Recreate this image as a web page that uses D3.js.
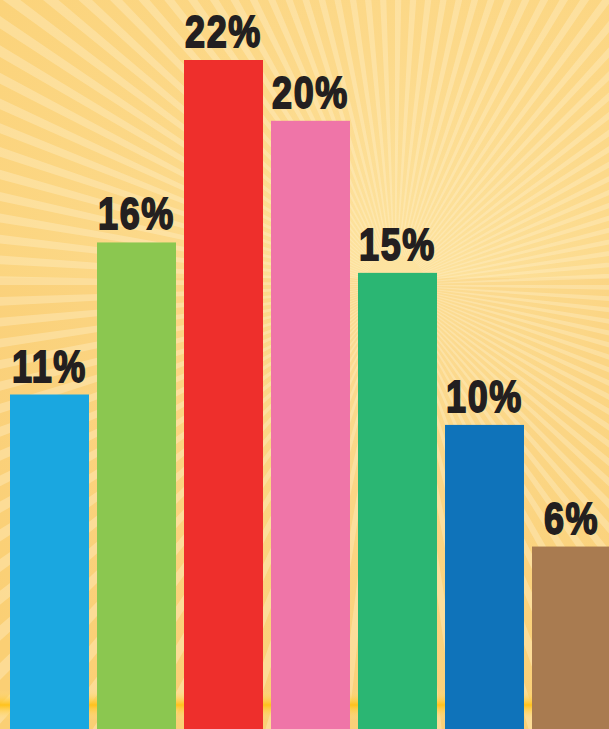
<!DOCTYPE html>
<html>
<head>
<meta charset="utf-8">
<script src="https://cdn.jsdelivr.net/npm/d3@7"></script>
<style>
  html, body { margin: 0; padding: 0; background: #fcd888; overflow: hidden; }
  svg { display: block; }
</style>
</head>
<body>
<div id="chart"></div>
<script>
const categories = ['a', 'b', 'c', 'd', 'e', 'f', 'g'];
const values = [11, 16, 22, 20, 15, 10, 6];
const labels = ['11%', '16%', '22%', '20%', '15%', '10%', '6%'];
const colors = ['#1aa7e0', '#8bc750', '#ee2f2c', '#ef75a8', '#2bb673', '#0f73ba', '#a97b50'];

const width = 609;
const height = 729;

const svg = d3.select('#chart')
    .append('svg')
    .attr('width', width)
    .attr('height', height);

const defs = svg.append('defs');

const glow = defs.append('radialGradient')
    .attr('id', 'glow')
    .attr('gradientUnits', 'userSpaceOnUse')
    .attr('cx', 395).attr('cy', 285).attr('r', 520);
glow.append('stop').attr('offset', '0%').attr('stop-color', '#fde4a2');
glow.append('stop').attr('offset', '45%').attr('stop-color', '#fcd98a');
glow.append('stop').attr('offset', '100%').attr('stop-color', '#fbd278');

const floor = defs.append('linearGradient')
    .attr('id', 'floor')
    .attr('x1', 0).attr('y1', 0).attr('x2', 0).attr('y2', 1);
floor.append('stop').attr('offset', '0%').attr('stop-color', '#ffe088').attr('stop-opacity', 0);
floor.append('stop').attr('offset', '50%').attr('stop-color', '#ffc21c').attr('stop-opacity', 1);
floor.append('stop').attr('offset', '100%').attr('stop-color', '#ffe08a').attr('stop-opacity', 0);

// background with sun rays
svg.append('rect')
    .attr('width', width).attr('height', height)
    .attr('fill', 'url(#glow)');

svg.append('rect')
    .attr('y', 278).attr('width', width).attr('height', height - 278)
    .attr('fill', '#f7c466').attr('opacity', 0.18);

const rayCount = 120;
const rayArc = d3.arc().innerRadius(30).outerRadius(900);
svg.append('g')
    .attr('transform', 'translate(395,285)')
    .selectAll('path')
    .data(d3.range(rayCount))
    .join('path')
    .attr('d', i => rayArc({
        startAngle: i * 2 * Math.PI / rayCount,
        endAngle: (i + 0.42) * 2 * Math.PI / rayCount
    }))
    .attr('fill', '#fff1cc')
    .attr('opacity', 0.36);

svg.append('rect')
    .attr('y', 690).attr('width', width).attr('height', 30)
    .attr('fill', 'url(#floor)');

const xScale = d3.scaleBand()
    .domain(categories)
    .range([10, 611])
    .paddingInner(0.092)
    .paddingOuter(0)
    .align(0);

const yScale = d3.scaleLinear()
    .domain([0, 22])
    .range([height, 60]);

svg.selectAll('rect.bar')
    .data(values)
    .join('rect')
    .attr('class', 'bar')
    .attr('x', (d, i) => xScale(categories[i]))
    .attr('y', d => yScale(d))
    .attr('width', xScale.bandwidth())
    .attr('height', d => yScale(0) - yScale(d))
    .attr('fill', (d, i) => colors[i]);

// heavy condensed labels: squeeze a bold face horizontally
svg.selectAll('text.label')
    .data(values)
    .join('text')
    .attr('class', 'label')
    .attr('transform', (d, i) =>
        `translate(${xScale(categories[i]) + xScale.bandwidth() / 2},${yScale(d) - 13}) scale(0.8,1)`)
    .attr('text-anchor', 'middle')
    .attr('font-family', '"Liberation Sans", Arial, sans-serif')
    .attr('font-weight', 'bold')
    .attr('font-size', 45)
    .attr('letter-spacing', 2)
    .attr('fill', '#231f20')
    .attr('stroke', '#231f20')
    .attr('stroke-width', 1.8)
    .text((d, i) => labels[i]);
</script>
</body>
</html>
